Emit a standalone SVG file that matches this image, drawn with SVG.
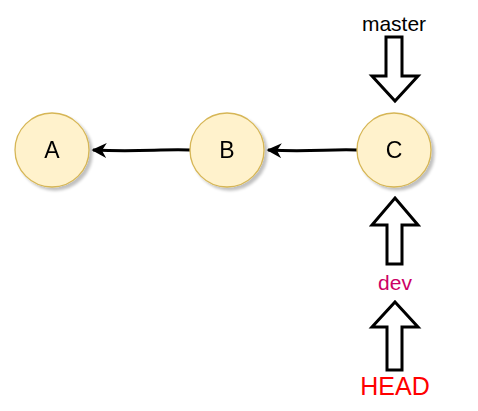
<svg xmlns="http://www.w3.org/2000/svg" width="478" height="411" viewBox="0 0 478 411">
<defs>
<filter id="sh" x="-30%" y="-30%" width="170%" height="170%">
<feGaussianBlur in="SourceAlpha" stdDeviation="1.5"/>
<feOffset dx="3" dy="3" result="b"/>
<feComponentTransfer><feFuncA type="linear" slope="0.25"/></feComponentTransfer>
<feMerge><feMergeNode/><feMergeNode in="SourceGraphic"/></feMerge>
</filter>
<marker id="ah" viewBox="0 0 10 10" refX="9" refY="5" markerWidth="5" markerHeight="5" orient="auto" markerUnits="strokeWidth">
<path d="M0,0 L10,5 L0,10 L3,5 Z" fill="#000"/>
</marker>
</defs>
<style>
.node{fill:#fff2cc;stroke:#d6b656;stroke-width:1.3;}
.lbl{font-family:"Comic Sans MS","Liberation Sans",sans-serif;font-size:23px;text-anchor:middle;fill:#000;}
.conn{stroke:#000;stroke-width:3;fill:none;}
.blk{fill:#fff;stroke:#000;stroke-width:3;stroke-linejoin:miter;}
.tag{font-family:"Comic Sans MS","Liberation Sans",sans-serif;text-anchor:middle;}
</style>
<g id="connectors">
<path class="conn" d="M190,150 C160,149 140,152 93,150" marker-end="url(#ah)"/>
<path class="conn" d="M357,150 C330,149 310,152 268,150" marker-end="url(#ah)"/>
</g>
<g id="nodeA" filter="url(#sh)"><circle class="node" cx="52" cy="150" r="37"/><text class="lbl" x="52" y="158">A</text></g>
<g id="nodeB" filter="url(#sh)"><circle class="node" cx="227" cy="150" r="37"/><text class="lbl" x="227" y="158">B</text></g>
<g id="nodeC" filter="url(#sh)"><circle class="node" cx="394" cy="150" r="37"/><text class="lbl" x="394" y="158">C</text></g>
<g id="master">
<text class="tag" x="394" y="31" font-size="21" fill="#000">master</text>
<path class="blk" d="M386,37 L402,37 L402,76 L418,76 L395,101 L372,76 L386,76 Z"/>
</g>
<g id="dev">
<path class="blk" d="M395,198 L418,225 L402,225 L402,264 L387,264 L387,225 L372,225 Z"/>
<text class="tag" x="395" y="290" font-size="21" fill="#cc0066">dev</text>
</g>
<g id="head">
<path class="blk" d="M395,302 L418,327 L402,327 L402,370 L387,370 L387,327 L372,327 Z"/>
<text class="tag" x="395" y="395" font-size="25" fill="#ff0000">HEAD</text>
</g>
</svg>
